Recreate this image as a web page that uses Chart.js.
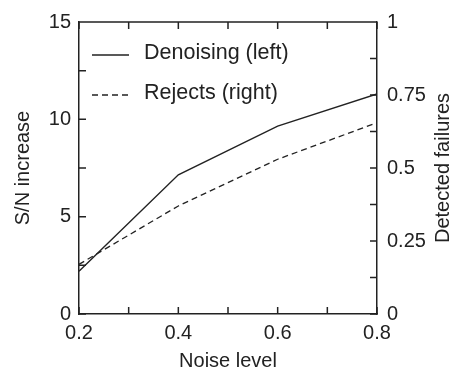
<!DOCTYPE html>
<html>
<head>
<meta charset="utf-8">
<script src="https://cdn.jsdelivr.net/npm/chart.js@4/dist/chart.umd.min.js"></script>
<style>
  html, body { margin: 0; padding: 0; background: #fff; }
  #wrap { width: 456px; height: 373px; }
</style>
</head>
<body>
<div id="wrap"><canvas id="myChart" width="456" height="373"></canvas></div>
<script>
// data
var noiseLevels = [0.2, 0.4, 0.6, 0.8];
var denoising = [2.2, 7.15, 9.65, 11.3];   // S/N increase, left axis
var rejects = [0.17, 0.37, 0.53, 0.655];   // detected failures, right axis

var xTicks = [0.2, 0.3, 0.4, 0.5, 0.6, 0.7, 0.8];
var leftTicks = [0, 2.5, 5, 7.5, 10, 12.5, 15];
var rightTicks = [0, 0.125, 0.25, 0.375, 0.5, 0.625, 0.75, 0.875, 1];

var legendLabels = ['Denoising (left)', 'Rejects (right)'];
var leftTitle = 'S/N increase';
var rightTitle = 'Detected failures';
var bottomTitle = 'Noise level';

var FONT = "'Liberation Sans', Arial, Helvetica, sans-serif";
var INK = '#222';

function points(ys) {
  return noiseLevels.map(function(x, i) { return {x: x, y: ys[i]}; });
}

// inward ticks, top frame line, right title and the legend box
var decorations = {
  id: 'decorations',
  afterDraw: function(chart) {
    var ctx = chart.ctx;
    var a = chart.chartArea;
    var xs = chart.scales.x, yl = chart.scales.yLeft, yr = chart.scales.yRight;
    var t = 7;
    ctx.save();
    ctx.strokeStyle = INK;
    ctx.lineWidth = 1.5;
    ctx.beginPath();
    ctx.moveTo(a.left, a.top);
    ctx.lineTo(a.right, a.top);
    xTicks.forEach(function(v) {
      var px = xs.getPixelForValue(v);
      ctx.moveTo(px, a.bottom); ctx.lineTo(px, a.bottom - t);
      ctx.moveTo(px, a.top); ctx.lineTo(px, a.top + t);
    });
    leftTicks.forEach(function(v) {
      var py = yl.getPixelForValue(v);
      ctx.moveTo(a.left, py); ctx.lineTo(a.left + t, py);
    });
    rightTicks.forEach(function(v) {
      var py = yr.getPixelForValue(v);
      ctx.moveTo(a.right, py); ctx.lineTo(a.right - t, py);
    });
    ctx.stroke();

    // right axis title, reading bottom to top
    ctx.fillStyle = INK;
    ctx.font = '20px ' + FONT;
    ctx.textAlign = 'center';
    ctx.textBaseline = 'middle';
    ctx.translate(443, (a.top + a.bottom) / 2);
    ctx.rotate(-Math.PI / 2);
    ctx.fillText(rightTitle, 0, 0);
    ctx.restore();

    // legend
    ctx.save();
    ctx.strokeStyle = INK;
    ctx.fillStyle = INK;
    ctx.lineWidth = 1.3;
    ctx.font = '21.5px ' + FONT;
    ctx.textAlign = 'left';
    ctx.textBaseline = 'middle';
    var rows = [{y: a.top + 33, dash: []}, {y: a.top + 73, dash: [6, 4]}];
    rows.forEach(function(r, i) {
      ctx.setLineDash(r.dash);
      ctx.beginPath();
      ctx.moveTo(a.left + 13, r.y);
      ctx.lineTo(a.left + 50, r.y);
      ctx.stroke();
      ctx.fillText(legendLabels[i], a.left + 65, r.y - 1.5);
    });
    ctx.restore();
  }
};

var ctx = document.getElementById('myChart').getContext('2d');
window.myChart = new Chart(ctx, {
  type: 'line',
  data: {
    datasets: [{
      label: legendLabels[0],
      data: points(denoising),
      yAxisID: 'yLeft',
      borderColor: INK,
      borderWidth: 1.4,
      pointRadius: 0,
      tension: 0,
      fill: false
    }, {
      label: legendLabels[1],
      data: points(rejects),
      yAxisID: 'yRight',
      borderColor: INK,
      borderWidth: 1.3,
      borderDash: [6, 4],
      pointRadius: 0,
      tension: 0,
      fill: false
    }]
  },
  options: {
    responsive: false,
    animation: false,
    devicePixelRatio: 1,
    layout: { padding: { top: 16, right: 0, left: 0, bottom: 0 } },
    plugins: {
      legend: { display: false },
      tooltip: { enabled: false }
    },
    scales: {
      x: {
        type: 'linear',
        min: 0.2,
        max: 0.8,
        grid: { display: false, drawTicks: false },
        border: { display: true, color: INK, width: 1.5 },
        ticks: {
          stepSize: 0.2,
          padding: 7,
          color: INK,
          font: { family: FONT, size: 20 },
          maxRotation: 0,
          callback: function(v) { return Number(v).toFixed(1); }
        },
        title: {
          display: true,
          text: bottomTitle,
          color: INK,
          font: { family: FONT, size: 20 },
          padding: { top: 0, bottom: 0 }
        },
        afterFit: function(s) { s.height = 59; }
      },
      yLeft: {
        type: 'linear',
        position: 'left',
        min: 0,
        max: 15,
        grid: { display: false, drawTicks: false },
        border: { display: true, color: INK, width: 1.5 },
        ticks: {
          stepSize: 5,
          padding: 8,
          color: INK,
          font: { family: FONT, size: 20 }
        },
        title: {
          display: true,
          text: leftTitle,
          color: INK,
          font: { family: FONT, size: 20 },
          padding: { top: 11, bottom: 0 }
        },
        afterFit: function(s) { s.width = 79; }
      },
      yRight: {
        type: 'linear',
        position: 'right',
        min: 0,
        max: 1,
        grid: { display: false, drawTicks: false },
        border: { display: true, color: INK, width: 1.5 },
        ticks: {
          stepSize: 0.25,
          padding: 10,
          color: INK,
          font: { family: FONT, size: 20 },
          callback: function(v) { return String(v); }
        },
        afterFit: function(s) { s.width = 79; }
      }
    }
  },
  plugins: [decorations]
});
</script>
</body>
</html>
